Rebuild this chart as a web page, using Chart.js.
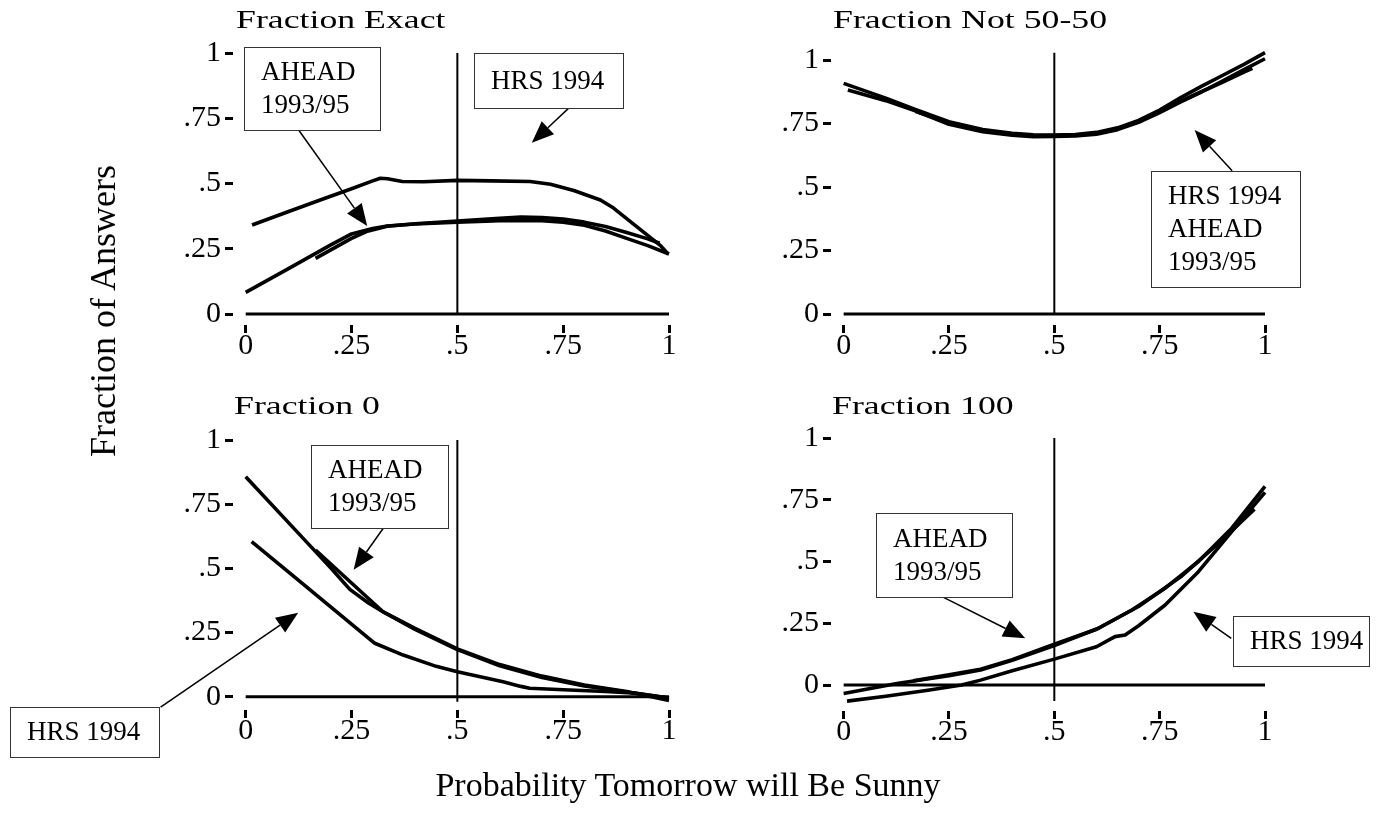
<!DOCTYPE html>
<html><head><meta charset="utf-8">
<script src="https://cdn.jsdelivr.net/npm/chart.js@4.4.1/dist/chart.umd.min.js"></script>
<style>
html,body{margin:0;padding:0;background:#fff;}
#wrap{position:relative;width:1379px;height:816px;overflow:hidden;background:#fff;font-family:"Liberation Serif","Times New Roman",serif;color:#000;}
canvas{position:absolute;left:0;top:0;}
.ttl{position:absolute;font-size:25px;line-height:25px;white-space:nowrap;transform:scaleX(1.43);transform-origin:0 0;}
.ytitle{position:absolute;left:103px;top:311px;font-size:36px;line-height:36px;white-space:nowrap;transform:translate(-50%,-50%) rotate(-90deg);}
.xtitle{position:absolute;left:688px;top:785px;font-size:34px;line-height:34px;white-space:nowrap;transform:translate(-50%,-50%);}
</style></head>
<body><div id="wrap">
<canvas id="c1" width="1379" height="816"></canvas>
<canvas id="c2" width="1379" height="816"></canvas>
<canvas id="c3" width="1379" height="816"></canvas>
<canvas id="c4" width="1379" height="816"></canvas>
<div class="ttl" style="left:236px;top:7px">Fraction Exact</div>
<div class="ttl" style="left:833px;top:7px">Fraction Not 50-50</div>
<div class="ttl" style="left:234px;top:393px">Fraction 0</div>
<div class="ttl" style="left:832px;top:393px">Fraction 100</div>
<div class="ytitle">Fraction of Answers</div>
<div class="xtitle">Probability Tomorrow will Be Sunny</div>
</div>
<script>
// ---- tick values / labels ----
const tickVals = [0, 0.25, 0.5, 0.75, 1];
const tickLabels = ['0', '.25', '.5', '.75', '1'];

// ---- Fraction Exact ----
const exactHrsX = [0.015, 0.1, 0.176, 0.25, 0.3, 0.318, 0.335, 0.37, 0.42, 0.5, 0.58, 0.672, 0.72, 0.775, 0.838, 0.869, 0.92, 0.98, 0.998];
const exactHrsY = [0.341, 0.392, 0.437, 0.48, 0.51, 0.52, 0.518, 0.508, 0.507, 0.512, 0.51, 0.508, 0.497, 0.473, 0.437, 0.406, 0.34, 0.262, 0.23];
const exactA93X = [0, 0.1, 0.2, 0.25, 0.3, 0.334, 0.4, 0.5, 0.6, 0.7, 0.75, 0.8, 0.85, 0.9, 0.95, 1.0];
const exactA93Y = [0.083, 0.173, 0.264, 0.307, 0.328, 0.337, 0.345, 0.352, 0.358, 0.358, 0.352, 0.34, 0.318, 0.29, 0.262, 0.23];
const exactA95X = [0.165, 0.2, 0.25, 0.285, 0.334, 0.4, 0.5, 0.6, 0.65, 0.7, 0.75, 0.8, 0.85, 0.9, 0.95, 0.978];
const exactA95Y = [0.213, 0.245, 0.29, 0.316, 0.336, 0.346, 0.356, 0.367, 0.372, 0.37, 0.364, 0.352, 0.335, 0.312, 0.288, 0.271];

// ---- Fraction Not 50-50 ----
const nfHrsX = [0, 0.1, 0.17, 0.25, 0.33, 0.4, 0.45, 0.5, 0.55, 0.6, 0.65, 0.7, 0.75, 0.8, 0.85, 0.9, 0.95, 1.0];
const nfHrsY = [0.908, 0.85, 0.805, 0.757, 0.726, 0.712, 0.706, 0.705, 0.707, 0.715, 0.733, 0.762, 0.803, 0.852, 0.897, 0.94, 0.983, 1.029];
const nfA93X = [0.01, 0.1, 0.17, 0.25, 0.33, 0.4, 0.45, 0.5, 0.55, 0.6, 0.65, 0.7, 0.75, 0.8, 0.85, 0.9, 0.95, 1.0];
const nfA93Y = [0.882, 0.84, 0.8, 0.747, 0.718, 0.704, 0.698, 0.699, 0.701, 0.708, 0.726, 0.755, 0.793, 0.835, 0.875, 0.918, 0.962, 1.005];
const nfA95X = [0.17, 0.25, 0.33, 0.4, 0.45, 0.5, 0.55, 0.6, 0.65, 0.7, 0.75, 0.8, 0.85, 0.9, 0.95, 0.97];
const nfA95Y = [0.798, 0.752, 0.722, 0.708, 0.702, 0.703, 0.705, 0.712, 0.73, 0.758, 0.797, 0.838, 0.876, 0.913, 0.952, 0.967];

// ---- Fraction 0 ----
const zeroA93X = [0, 0.1, 0.165, 0.2, 0.246, 0.29, 0.325, 0.4, 0.5, 0.6, 0.7, 0.8, 0.9, 1.0];
const zeroA93Y = [0.857, 0.68, 0.565, 0.503, 0.418, 0.365, 0.33, 0.262, 0.183, 0.12, 0.075, 0.042, 0.018, -0.005];
const zeroA95X = [0.165, 0.25, 0.325, 0.4, 0.5, 0.6, 0.7, 0.8, 0.9, 1.0];
const zeroA95Y = [0.571, 0.443, 0.33, 0.266, 0.186, 0.125, 0.08, 0.045, 0.02, -0.015];
const zeroHrsX = [0.014, 0.1, 0.2, 0.305, 0.372, 0.45, 0.5, 0.608, 0.65, 0.671, 0.765, 0.85, 0.923, 1.0];
const zeroHrsY = [0.604, 0.487, 0.351, 0.208, 0.162, 0.118, 0.097, 0.058, 0.04, 0.033, 0.026, 0.02, 0.013, -0.005];

// ---- Fraction 100 ----
const hunA93X = [0, 0.13, 0.25, 0.325, 0.4, 0.5, 0.605, 0.684, 0.763, 0.842, 0.921, 1.0];
const hunA93Y = [-0.034, 0.007, 0.038, 0.061, 0.1, 0.16, 0.23, 0.304, 0.392, 0.5, 0.635, 0.804];
const hunA95X = [0.165, 0.25, 0.325, 0.4, 0.5, 0.6, 0.7, 0.8, 0.9, 0.975];
const hunA95Y = [0.017, 0.042, 0.064, 0.103, 0.165, 0.226, 0.318, 0.438, 0.59, 0.712];
const hunHrsX = [0.008, 0.1, 0.2, 0.28, 0.325, 0.4, 0.5, 0.6, 0.644, 0.668, 0.7, 0.763, 0.842, 0.921, 1.0];
const hunHrsY = [-0.065, -0.045, -0.021, 0.0, 0.02, 0.058, 0.105, 0.155, 0.196, 0.203, 0.24, 0.324, 0.459, 0.621, 0.78];

// vertical reference line at x = .5 : [low, high]
const refExact = [0, 1], refNf = [0, 1.029], refZero = [-0.02, 1], refHun = [-0.065, 1];

const W = 1379, H = 816, YW = 80, XH = 60;
Chart.defaults.font.family = '"Liberation Serif", "Times New Roman", serif';
Chart.defaults.color = '#000';

function pts(xs, ys) { return xs.map((x, i) => ({ x: x, y: ys[i] })); }

const annotPlugin = {
  id: 'annot',
  afterDraw(chart, args, opts) {
    const ctx = chart.ctx, sx = chart.scales.x, sy = chart.scales.y;
    const px = v => sx.getPixelForValue(v), py = v => sy.getPixelForValue(v);
    ctx.save();
    (opts.arrows || []).forEach(a => {
      const x0 = px(a.from[0]), y0 = py(a.from[1]), x1 = px(a.to[0]), y1 = py(a.to[1]);
      const ang = Math.atan2(y1 - y0, x1 - x0), L = 22, hw = 9;
      const bx = x1 - L * Math.cos(ang), by = y1 - L * Math.sin(ang);
      ctx.strokeStyle = '#000'; ctx.lineWidth = 1.5;
      ctx.beginPath(); ctx.moveTo(x0, y0); ctx.lineTo(bx, by); ctx.stroke();
      ctx.fillStyle = '#000'; ctx.beginPath(); ctx.moveTo(x1, y1);
      ctx.lineTo(bx + hw * Math.sin(ang), by - hw * Math.cos(ang));
      ctx.lineTo(bx - hw * Math.sin(ang), by + hw * Math.cos(ang));
      ctx.closePath(); ctx.fill();
    });
    (opts.boxes || []).forEach(b => {
      const l = Math.round(px(b.x0)), r = Math.round(px(b.x1)), t = Math.round(py(b.y1)), bt = Math.round(py(b.y0));
      ctx.fillStyle = '#fff'; ctx.fillRect(l, t, r - l, bt - t);
      ctx.strokeStyle = '#333'; ctx.lineWidth = 1;
      ctx.strokeRect(l + 0.5, t + 0.5, r - l, bt - t);
      ctx.fillStyle = '#000'; ctx.font = '27px "Liberation Serif"';
      ctx.textAlign = 'left'; ctx.textBaseline = 'middle';
      const n = b.lines.length, cy = (t + bt) / 2, lh = 33;
      b.lines.forEach((s, i) => ctx.fillText(s, l + 17, cy + (i - (n - 1) / 2) * lh + 1));
    });
    ctx.restore();
  }
};

function lineDs(data, w) {
  return { data: data, borderColor: '#000', borderWidth: w, pointRadius: 0, tension: 0,
           fill: false, clip: false, borderJoinStyle: 'round' };
}

function panel(id, area, xr, yr, series, ref, annot) {
  const ds = series.map(s => lineDs(pts(s[0], s[1]), 3.6));
  ds.push(lineDs([{ x: 0, y: 0 }, { x: 1, y: 0 }], 3));
  ds.push(lineDs([{ x: 0.5, y: ref[0] }, { x: 0.5, y: ref[1] }], 2));
  const gridOpt = { display: true, drawOnChartArea: false, drawTicks: true, tickLength: 8, tickWidth: 3, tickColor: '#000', color: '#000' };
  const tickOpt = { font: { size: 30 }, color: '#000', autoSkip: false, maxRotation: 0,
                    callback: v => tickLabels[tickVals.indexOf(v)] };
  new Chart(document.getElementById(id), {
    type: 'line',
    data: { datasets: ds },
    options: {
      responsive: false, animation: false, devicePixelRatio: 1, events: [],
      layout: { padding: { left: area.left - YW, top: area.top, right: W - area.right, bottom: H - area.bottom - XH } },
      plugins: { legend: { display: false }, tooltip: { enabled: false }, annot: annot },
      scales: {
        x: { type: 'linear', min: xr[0], max: xr[1],
             afterBuildTicks: s => { s.ticks = tickVals.map(v => ({ value: v })); },
             afterFit: s => { s.height = XH; },
             grid: gridOpt, border: { display: false },
             ticks: Object.assign({ padding: -5 }, tickOpt) },
        y: { type: 'linear', min: yr[0], max: yr[1],
             afterBuildTicks: s => { s.ticks = tickVals.map(v => ({ value: v })); },
             afterFit: s => { s.width = YW; },
             grid: gridOpt, border: { display: false },
             ticks: Object.assign({ padding: 4 }, tickOpt) }
      }
    },
    plugins: [annotPlugin]
  });
}

panel('c1', { left: 233, right: 669, top: 53, bottom: 325 }, [-0.03, 1], [-0.042, 1],
  [[exactHrsX, exactHrsY], [exactA93X, exactA93Y], [exactA95X, exactA95Y]], refExact,
  { boxes: [{ x0: -0.003, x1: 0.318, y0: 0.705, y1: 1.023, lines: ['AHEAD', '1993/95'] },
            { x0: 0.539, x1: 0.891, y0: 0.789, y1: 0.999, lines: ['HRS 1994'] }],
    arrows: [{ from: [0.125, 0.705], to: [0.287, 0.337] }, { from: [0.775, 0.807], to: [0.676, 0.656] }] });

panel('c2', { left: 831, right: 1265, top: 60, bottom: 325 }, [-0.03, 1], [-0.043, 1],
  [[nfHrsX, nfHrsY], [nfA93X, nfA93Y], [nfA95X, nfA95Y]], refNf,
  { boxes: [{ x0: 0.73, x1: 1.084, y0: 0.105, y1: 0.564, lines: ['HRS 1994', 'AHEAD', '1993/95'] }],
    arrows: [{ from: [0.922, 0.564], to: [0.833, 0.724] }] });

panel('c3', { left: 233, right: 669, top: 440, bottom: 710 }, [-0.03, 1], [-0.052, 1],
  [[zeroA93X, zeroA93Y], [zeroA95X, zeroA95Y], [zeroHrsX, zeroHrsY]], refZero,
  { boxes: [{ x0: 0.155, x1: 0.479, y0: 0.656, y1: 0.981, lines: ['AHEAD', '1993/95'] },
            { x0: -0.557, x1: -0.204, y0: -0.236, y1: -0.041, lines: ['HRS 1994'] }],
    arrows: [{ from: [0.325, 0.656], to: [0.255, 0.494] }, { from: [-0.201, -0.041], to: [0.124, 0.327] }] });

panel('c4', { left: 831, right: 1265, top: 438, bottom: 711 }, [-0.03, 1], [-0.105, 1],
  [[hunA93X, hunA93Y], [hunA95X, hunA95Y], [hunHrsX, hunHrsY]], refHun,
  { boxes: [{ x0: 0.077, x1: 0.4, y0: 0.355, y1: 0.696, lines: ['AHEAD', '1993/95'] },
            { x0: 0.925, x1: 1.248, y0: 0.077, y1: 0.281, lines: ['HRS 1994'] }],
    arrows: [{ from: [0.237, 0.355], to: [0.431, 0.189] }, { from: [0.92, 0.189], to: [0.83, 0.297] }] });
</script>
</body></html>
